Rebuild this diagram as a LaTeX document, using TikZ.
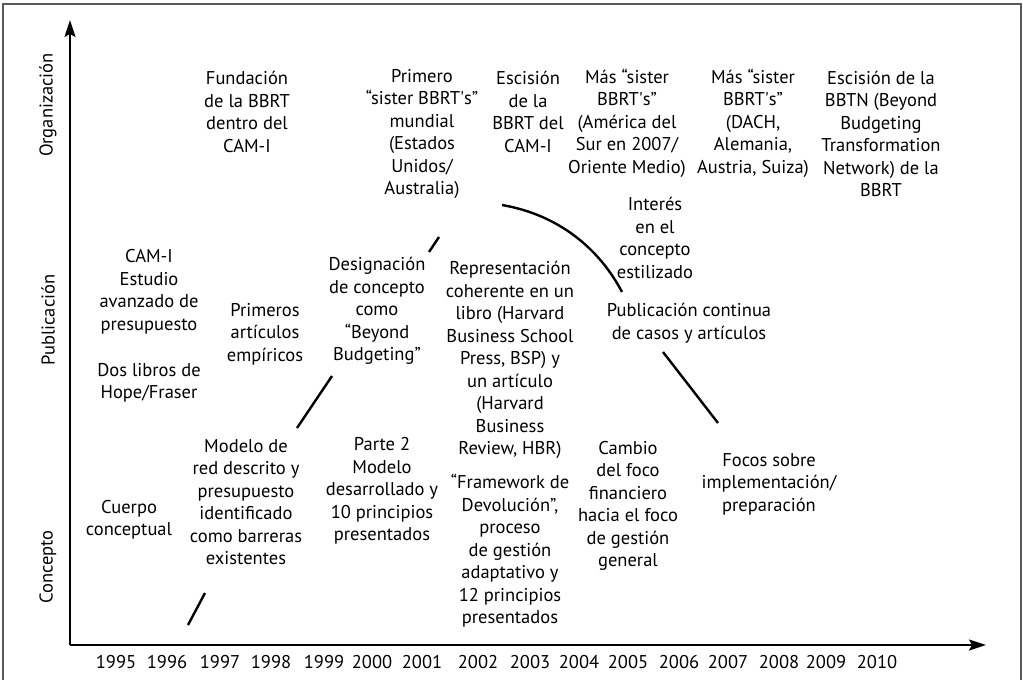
\documentclass[tikz,border=0pt]{standalone}
\usepackage{fontspec}
\setmainfont{PT Sans}
\usetikzlibrary{arrows.meta}

\tikzset{
  txt/.style={align=center, inner sep=0pt, font=\fontsize{18.5}{22.5}\selectfont},
  ejetxt/.style={txt, rotate=90},
  eje/.style={line width=1.6pt, -{Stealth[length=17pt,width=11pt,inset=3pt]}},
  trazo/.style={line width=2.4pt},
}

\begin{document}
\begin{tikzpicture}[x=1pt, y=-1pt]
        \useasboundingbox (0,0) rectangle (1023,680);
        % Frame
        \draw[line width=1.5pt, black!65] (3,690) -- (3,4) -- (1021,4) -- (1021,690);

        % Axes
        \coordinate (O) at (70,645);
        \coordinate (arriba) at (70,20);
        \coordinate (derecha) at (986,645);
        \draw[eje] (O) -- (arriba);
        \draw[eje] (O) -- (derecha);

        % Axis labels
        \node[ejetxt] (organizacion) at (48,105) {Organización};
        \node[ejetxt] (publicacion) at (48,320) {Publicación};
        \node[ejetxt] (concepto) at (48,567) {Concepto};

        % Years
        \foreach \anio/\x in {1995/116, 1996/167, 1997/220, 1998/271, 1999/324,
                              2000/372, 2001/422, 2002/478, 2003/530, 2004/579,
                              2005/628, 2006/679, 2007/728, 2008/779, 2009/826, 2010/877}
          \node[txt] (a\anio) at (\x,662) {\anio};

        % Organizacion
        \node[txt] (fundacion) at (247,112) {Fundación\\de la BBRT\\dentro del\\CAM-I};
        \node[txt] (primero) at (422,134) {Primero\\“sister BBRT\textquotesingle s”\\mundial\\(Estados\\Unidos/\\Australia)};
        \node[txt] (escision) at (528,112) {Escisión\\de la\\BBRT del\\CAM-I};
        \node[txt] (massur) at (627,123) {Más “sister\\BBRT\textquotesingle s”\\(América del\\Sur en 2007/\\Oriente Medio)};
        \node[txt] (masdach) at (753,123) {Más “sister\\BBRT\textquotesingle s”\\(DACH,\\Alemania,\\Austria, Suiza)};
        \node[txt] (bbtn) at (881,134) {Escisión de la\\BBTN (Beyond\\Budgeting\\Transformation\\Network) de la\\BBRT};

        % Publicacion
        \node[txt] (estudio) at (149,292) {CAM-I\\Estudio\\avanzado de\\presupuesto};
        \node[txt] (libros) at (149,383) {Dos libros de\\Hope/Fraser};
        \node[txt] (articulos) at (265,334) {Primeros\\artículos\\empíricos};
        \node[txt] (designacion) at (377,311) {Designación\\de concepto\\como\\“Beyond\\Budgeting”};
        \node[txt] (representacion) at (510,360) {Representación\\coherente en un\\libro (Harvard\\Business School\\Press, BSP) y\\un artículo\\(Harvard\\Business\\Review, HBR)};
        \node[txt] (interes) at (655,238) {Interés\\en el\\concepto\\estilizado};
        \node[txt] (continua) at (689,323) {Publicación continua\\de casos y artículos};

        % Concepto
        \node[txt] (cuerpo) at (129,520) {Cuerpo\\conceptual};
        \node[txt] (modelored) at (246,502) {Modelo de\\red descrito y\\presupuesto\\identificado\\como barreras\\existentes};
        \node[txt] (parte) at (382,491) {Parte 2\\Modelo\\desarrollado y\\10 principios\\presentados};
        \node[txt] (framework) at (510,551) {“Framework de\\Devolución”,\\proceso\\de gestión\\adaptativo y\\12 principios\\presentados};
        \node[txt] (cambio) at (628,506) {Cambio\\del foco\\financiero\\hacia el foco\\de gestión\\general};
        \node[txt] (focos) at (769,484) {Focos sobre\\implementación/\\preparación};

        % Curve strokes
        \coordinate (c1a) at (188,625);
        \coordinate (c1b) at (205,593);
        \coordinate (c2a) at (297,428);
        \coordinate (c2b) at (332,376);
        \coordinate (c3a) at (429,252);
        \coordinate (c3b) at (439,237);
        \coordinate (c4a) at (502,205);
        \coordinate (c4b) at (622,292);
        \coordinate (c5a) at (663,352);
        \coordinate (c5b) at (718,423);
        \draw[trazo] (c1a) -- (c1b);
        \draw[trazo] (c2a) -- (c2b);
        \draw[trazo] (c3a) -- (c3b);
        \draw[trazo] (c4a) .. controls (560,215) and (600,250) .. (c4b);
        \draw[trazo] (c5a) -- (c5b);
    \end{tikzpicture}
\end{document}
